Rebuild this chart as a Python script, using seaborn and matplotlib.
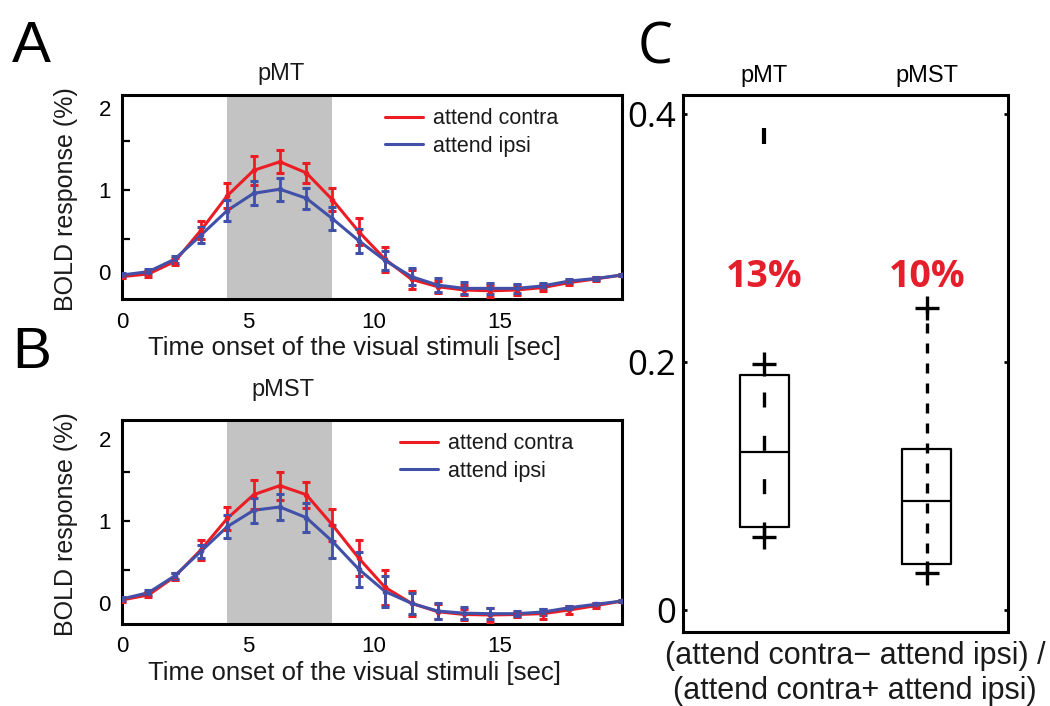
import matplotlib
matplotlib.use("Agg")
import matplotlib.pyplot as plt
import pandas as pd
import seaborn as sns

# ---------------- data ----------------
time_sec = [0, 1.05, 2.09, 3.14, 4.18, 5.23, 6.27, 7.32, 8.36, 9.41,
            10.45, 11.50, 12.54, 13.59, 14.63, 15.68, 16.72, 17.77, 18.81, 19.86]
stim_on, stim_off = 4.18, 8.36
x_ticks = [0, 5, 10, 15]
y_ticks = [0, 1, 2]
conditions = ["attend contra", "attend ipsi"]

pmt_contra = [-0.057, -0.024, 0.126, 0.51, 0.93, 1.24, 1.345, 1.21, 0.88, 0.49,
              0.155, -0.09, -0.18, -0.22, -0.23, -0.22, -0.19, -0.13, -0.085, -0.037]
pmt_contra_err = [0.02, 0.04, 0.04, 0.11, 0.15, 0.18, 0.14, 0.12, 0.14, 0.165,
                  0.155, 0.115, 0.075, 0.065, 0.07, 0.06, 0.04, 0.03, 0.02, 0.01]
pmt_ipsi = [-0.037, 0.004, 0.155, 0.45, 0.75, 0.96, 1.01, 0.90, 0.65, 0.38,
            0.14, -0.057, -0.16, -0.20, -0.20, -0.20, -0.17, -0.11, -0.08, -0.037]
pmt_ipsi_err = [0.02, 0.03, 0.04, 0.10, 0.13, 0.145, 0.14, 0.13, 0.14, 0.145,
                0.12, 0.10, 0.085, 0.075, 0.065, 0.055, 0.03, 0.03, 0.02, 0.01]

pmst_contra = [0.037, 0.098, 0.32, 0.65, 1.03, 1.32, 1.43, 1.32, 0.95, 0.545,
               0.19, -0.004, -0.106, -0.14, -0.146, -0.14, -0.13, -0.085, -0.033, 0.024]
pmst_contra_err = [0.02, 0.03, 0.04, 0.12, 0.14, 0.18, 0.17, 0.16, 0.19, 0.22,
                   0.21, 0.15, 0.09, 0.07, 0.08, 0.03, 0.06, 0.05, 0.03, 0.01]
pmst_ipsi = [0.049, 0.126, 0.33, 0.63, 0.93, 1.13, 1.17, 1.04, 0.75, 0.41,
             0.14, -0.004, -0.098, -0.124, -0.13, -0.13, -0.11, -0.057, -0.016, 0.024]
pmst_ipsi_err = [0.02, 0.03, 0.04, 0.08, 0.14, 0.15, 0.16, 0.18, 0.20, 0.21,
                 0.19, 0.13, 0.10, 0.075, 0.07, 0.03, 0.035, 0.02, 0.02, 0.01]

box_regions = ["pMT", "pMST"]
box_whislo = [0.059, 0.030]
box_q1 = [0.067, 0.037]
box_med = [0.127, 0.088]
box_q3 = [0.189, 0.130]
box_whishi = [0.198, 0.243]
box_outliers = [[0.382], []]
pct_labels = ["13%", "10%"]
pct_y = 0.268
c_ticks = [0, 0.2, 0.4]
c_ticklabels = ["0", "0.2", "0.4"]

# ---------------- style ----------------
sns.set_theme(style="white")
plt.rcParams["font.family"] = ["Liberation Sans", "DejaVu Sans"]
plt.rcParams["axes.edgecolor"] = "black"
plt.rcParams["text.color"] = "#1a1a1a"
plt.rcParams["xtick.color"] = "black"
plt.rcParams["ytick.color"] = "black"

RED = "#EC1C24"
BLUE = "#4150A8"
GRAY = "#C3C3C3"
palette = {"attend contra": RED, "attend ipsi": BLUE}

W, H = 1050, 706
fig = plt.figure(figsize=(W / 100, H / 100), dpi=100)


def fx(px):
    return px / W


def fy(py):
    return 1 - py / H


def time_panel(rect, title, title_xy, contra, contra_err, ipsi, ipsi_err, ylim, leg_anchor):
    ax = fig.add_axes(rect)
    ax.axvspan(stim_on, stim_off, color=GRAY, lw=0, zorder=0)
    df = pd.DataFrame({
        "time": time_sec * 2,
        "bold": contra + ipsi,
        "condition": [conditions[0]] * len(time_sec) + [conditions[1]] * len(time_sec),
    })
    sns.lineplot(data=df, x="time", y="bold", hue="condition", palette=palette,
                 linewidth=2.2, ax=ax, legend=True, zorder=3)
    for vals, errs, col in [(contra, contra_err, RED), (ipsi, ipsi_err, BLUE)]:
        ax.errorbar(time_sec, vals, yerr=errs, fmt="o", ms=3, color=col, ecolor=col,
                    elinewidth=2, capsize=3, capthick=2.2, zorder=4)
    ax.set_xlim(time_sec[0], time_sec[-1])
    ax.set_ylim(*ylim)
    ax.set_xticks(x_ticks)
    ax.set_xticklabels([str(t) for t in x_ticks])
    ax.set_yticks(y_ticks)
    ax.set_yticklabels([str(t) for t in y_ticks])
    ax.yaxis.remove_overlapping_locs = False
    ax.set_yticks([0.4, 1.0, 1.6], minor=True)
    ax.tick_params(axis="both", which="major", length=0, labelsize=16)
    ax.tick_params(axis="x", pad=9)
    ax.tick_params(axis="y", pad=8)
    ax.tick_params(axis="y", which="minor", left=True, direction="in", length=6, width=1.6)
    ax.set_xlabel("")
    ax.set_ylabel("")
    for s in ax.spines.values():
        s.set_linewidth(2.2)
        s.set_color("black")
    handles, labels = ax.get_legend_handles_labels()
    leg = ax.legend(handles[:2], labels[:2], loc="upper left", bbox_to_anchor=leg_anchor,
                    frameon=False, fontsize=15.5, handlelength=1.75, handletextpad=0.5,
                    labelspacing=0.32, borderpad=0, borderaxespad=0)
    for line in leg.get_lines():
        line.set_linewidth(2.2)
    fig.text(fx(title_xy[0]), fy(title_xy[1]), title, ha="center", va="baseline", fontsize=17)
    return ax


# Panel A
axA = time_panel([fx(122), fy(299), fx(500), 204 / H], "pMT", (281, 80),
                 pmt_contra, pmt_contra_err, pmt_ipsi, pmt_ipsi_err,
                 (-0.33, 2.16), (0.526, 0.936))
# Panel B
axB = time_panel([fx(122), fy(624), fx(500), 204 / H], "pMST", (283, 396),
                 pmst_contra, pmst_contra_err, pmst_ipsi, pmst_ipsi_err,
                 (-0.256, 2.23), (0.556, 0.936))

for yc in (199, 524):
    fig.text(fx(66), fy(yc), "BOLD response (%)", rotation=90, ha="center", va="center",
             fontsize=18)
for yc in (348, 673):
    fig.text(fx(354), fy(yc), "Time onset of the visual stimuli [sec]", ha="center",
             va="center", fontsize=18.5)

# Panel C
axC = fig.add_axes([fx(683), fy(631.7), fx(325), (631.7 - 95) / H])
positions = [1, 2]
stats = []
for i, r in enumerate(box_regions):
    stats.append(dict(label=r, med=box_med[i], q1=box_q1[i], q3=box_q3[i],
                      whislo=box_whislo[i], whishi=box_whishi[i], fliers=[]))
axC.bxp(stats, positions=positions, widths=0.30, showcaps=False, showfliers=False,
        boxprops=dict(color="black", linewidth=1.6),
        medianprops=dict(color="black", linewidth=1.6),
        whiskerprops=dict(linewidth=0))
dash_styles = [(0, (4.5, 8.5)), (0, (3.0, 3.0))]
for i, p in enumerate(positions):
    axC.vlines(p, box_whislo[i], box_whishi[i], colors="black", linewidth=2.4,
               linestyles=[dash_styles[i]], zorder=3)
    axC.plot([p, p], [box_whislo[i], box_whishi[i]], ls="none", marker="+", ms=17,
             mew=2.4, color="black", zorder=4)
    if box_outliers[i]:
        axC.plot([p] * len(box_outliers[i]), box_outliers[i], ls="none", marker="|",
                 ms=11, mew=3, color="black", zorder=4)
    axC.text(p, pct_y, pct_labels[i], ha="center", va="center", color="#E41E2B",
             fontsize=27, fontweight="bold", family=["Open Sans", "DejaVu Sans"])

axC.set_xlim(0.5, 2.5)
axC.set_ylim(-0.0175, 0.415)
axC.set_xticks(positions)
axC.set_xticklabels(box_regions, fontsize=17)
axC.xaxis.tick_top()
axC.tick_params(axis="x", length=0, pad=6)
axC.set_yticks(c_ticks)
axC.set_yticklabels(c_ticklabels, fontsize=25, family=["Open Sans", "DejaVu Sans"])
axC.tick_params(axis="y", left=True, right=True, direction="in", length=3, width=2, pad=5)
for s in axC.spines.values():
    s.set_linewidth(2.2)
    s.set_color("black")

fig.text(fx(855), fy(673.5),
         "(attend contra\u2212 attend ipsi) /\n(attend contra+ attend ipsi)",
         ha="center", va="center", fontsize=22, linespacing=1.2)

# panel letters
fig.text(fx(12), fy(61.7), "A", fontsize=42, ha="left", va="baseline", color="black")
fig.text(fx(12), fy(368), "B", fontsize=42, ha="left", va="baseline", color="black")
fig.text(fx(638), fy(63.3), "C", fontsize=40, ha="left", va="baseline", color="black",
         family=["Open Sans", "DejaVu Sans"])

fig.savefig("out.png", dpi=100)
